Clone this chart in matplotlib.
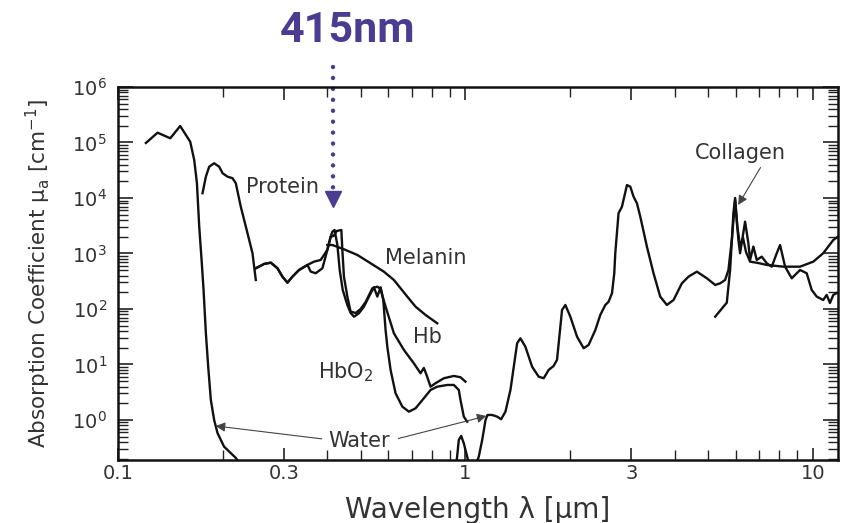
import matplotlib
matplotlib.use("Agg")
import matplotlib.pyplot as plt
from matplotlib.ticker import LogLocator, FixedLocator, FixedFormatter, NullFormatter

# ---------------- data (wavelength in um, absorption in cm^-1) ----------------
water_uv_wl = [0.1203, 0.1300, 0.1414, 0.1510, 0.1614, 0.1657, 0.1687, 0.1713, 0.1740,
               0.1763, 0.1790, 0.1818, 0.1850, 0.1891, 0.1934, 0.2020, 0.2183, 0.2256]
water_uv_mu = [9.8e4, 1.50e5, 1.19e5, 1.98e5, 1.03e5, 4.84e4, 1.86e4, 3040, 764,
               220, 37, 9.1, 2.3, 1.0, 0.58, 0.33, 0.207, 0.155]

water_hump_wl = [0.942, 0.9566, 0.9719, 0.9888, 1.0113, 1.022]
water_hump_mu = [0.168, 0.436, 0.515, 0.380, 0.218, 0.168]

water_ir_wl = [1.075, 1.092, 1.117, 1.142, 1.157, 1.193, 1.233, 1.266, 1.303, 1.347, 1.377,
               1.408, 1.439, 1.487, 1.555, 1.624, 1.679, 1.735, 1.793, 1.834, 1.875, 1.896,
               1.938, 2.003, 2.094, 2.188, 2.261, 2.364, 2.443, 2.526, 2.581, 2.640, 2.680,
               2.698, 2.757, 2.820, 2.915, 2.980, 3.045, 3.114, 3.184, 3.327, 3.476, 3.634,
               3.798, 3.969, 4.195, 4.383, 4.633, 4.950, 5.230, 5.405, 5.587, 5.710, 5.840,
               5.969, 6.036, 6.100, 6.169, 6.376, 6.517, 6.591, 6.736, 6.889, 7.120, 7.362,
               7.608, 7.866, 8.040, 8.312, 8.686, 8.980, 9.177, 9.592, 9.915, 10.25, 10.70,
               10.95, 11.19, 11.44, 11.70]
water_ir_mu = [0.168, 0.218, 0.436, 1.0, 1.23, 1.23, 1.15, 1.03, 1.41, 3.47, 9.1,
               24.1, 29.6, 20.9, 9.1, 6.03, 5.64, 7.96, 9.4, 12.1, 48, 96,
               118, 72.6, 31.7, 19.6, 22.5, 41.8, 78, 118, 135, 192, 440,
               1010, 5300, 6970, 1.71e4, 1.60e4, 1.06e4, 8030, 4610, 1330, 440, 167,
               118, 145, 290, 382, 470, 357, 271, 290, 333, 504, 1750,
               9200, 4010, 1750, 1010, 3740, 1530, 764, 1330, 764, 876, 666,
               578, 1010, 1420, 578, 357, 440, 504, 440, 220, 167, 145,
               179, 128, 179, 194]

collagen_wl = [5.23, 5.649, 5.774, 5.902, 5.969, 6.048, 6.169, 6.291, 6.417, 6.591, 6.95,
               7.362, 8.219, 9.177, 10.02, 10.70, 11.44, 11.80]
collagen_mu = [72.6, 130, 504, 5370, 1.0e4, 3260, 1330, 1900, 1060, 712, 674,
               621, 578, 578, 712, 1010, 1750, 2010]

protein_wl = [0.1751, 0.1790, 0.1830, 0.1891, 0.1955, 0.2000, 0.2066, 0.2136, 0.2183,
              0.2256, 0.2359, 0.2438, 0.2492]
protein_mu = [1.22e4, 2.42e4, 3.66e4, 4.22e4, 3.66e4, 2.79e4, 2.42e4, 2.27e4, 1.84e4,
              6970, 2310, 1010, 333]

hbo2_wl = [0.2492, 0.2633, 0.2753, 0.2877, 0.2973, 0.3073, 0.3177, 0.3319, 0.3509, 0.3586,
           0.3707, 0.3875, 0.4004, 0.4093, 0.4140, 0.4200, 0.4279, 0.4345, 0.4433, 0.4571,
           0.4672, 0.4776, 0.4935, 0.5102, 0.5274, 0.5451, 0.5576, 0.5698, 0.5800, 0.5889,
           0.5957, 0.6088, 0.6291, 0.6579, 0.6874, 0.7183, 0.7588, 0.7933, 0.8293, 0.8860,
           0.9256, 0.9566, 0.9674, 0.9888, 1.0113]
hbo2_mu = [541, 647, 683, 541, 382, 298, 382, 504, 621, 471,
           440, 541, 1160, 2010, 2470, 2650, 1420, 504, 220, 118,
           84.7, 72.6, 83.7, 110, 167, 246, 167, 246, 145, 41.8,
           20.9, 7.96, 3.03, 1.74, 1.41, 1.62, 2.46, 3.47, 3.98, 4.27,
           4.27, 3.47, 2.29, 1.15, 0.93]

hb_wl = [0.2492, 0.2633, 0.2753, 0.2877, 0.2973, 0.3073, 0.3177, 0.3319, 0.3509, 0.3665,
         0.3831, 0.4004, 0.4093, 0.4175, 0.4259, 0.4393, 0.4422, 0.4469, 0.4571, 0.4672,
         0.4830, 0.4993, 0.5162, 0.5395, 0.5576, 0.5698, 0.5812, 0.5889, 0.6222, 0.6648,
         0.7100, 0.7424, 0.7588, 0.7726, 0.7933, 0.8200, 0.8663, 0.9256, 0.9674, 1.0]
hb_mu = [541, 647, 683, 541, 382, 298, 382, 504, 621, 712,
         764, 1160, 2010, 2070, 2540, 2650, 1160, 382, 167, 89.4,
         84.7, 100, 134, 236, 252, 229, 145, 110, 36.5, 18.3,
         10.5, 6.94, 8.65, 6.47, 3.98, 4.59, 5.64, 6.21, 5.88, 4.90]

melanin_wl = [0.4004, 0.4140, 0.4469, 0.4884, 0.5333, 0.5823, 0.6222, 0.6504, 0.6799,
              0.7183, 0.7674, 0.8293]
melanin_mu = [1420, 1420, 1190, 940, 666, 470, 333, 236, 167, 110, 78, 55.2]

x_tick_values = [0.1, 0.3, 1, 3, 10]
x_tick_labels = ["0.1", "0.3", "1", "3", "10"]
x_minor_values = [0.2, 0.4, 0.5, 0.6, 0.7, 0.8, 0.9, 2, 4, 5, 6, 7, 8, 9]

# ---------------- figure ----------------
fig = plt.figure(figsize=(8.41, 5.23), dpi=100)
ax = fig.add_axes([0.1403, 0.1205, 0.8561, 0.7132])
ax.set_xscale("log")
ax.set_yscale("log")
ax.set_xlim(0.1, 11.8)
ax.set_ylim(0.19, 1e6)

lw = 1.7
col = "#111111"
for wl, mu in [(water_uv_wl, water_uv_mu), (water_hump_wl, water_hump_mu),
               (water_ir_wl, water_ir_mu), (collagen_wl, collagen_mu),
               (protein_wl, protein_mu), (hbo2_wl, hbo2_mu), (hb_wl, hb_mu),
               (melanin_wl, melanin_mu)]:
    ax.plot(wl, mu, color=col, lw=lw, solid_joinstyle="round")

# ticks
ax.xaxis.set_major_locator(FixedLocator(x_tick_values))
ax.xaxis.set_major_formatter(FixedFormatter(x_tick_labels))
ax.xaxis.set_minor_locator(FixedLocator(x_minor_values))
ax.xaxis.set_minor_formatter(NullFormatter())
ax.yaxis.set_major_locator(FixedLocator([1, 10, 100, 1e3, 1e4, 1e5, 1e6]))
ax.yaxis.set_minor_locator(LogLocator(base=10, subs=[2, 3, 4, 5, 6, 7, 8, 9], numticks=20))
ax.yaxis.set_minor_formatter(NullFormatter())
ax.tick_params(which="both", direction="in", top=True, right=True, colors="#222222",
               labelcolor="#333333", labelsize=14)
ax.tick_params(axis="y", which="major", length=11, width=1.2, pad=8)
ax.tick_params(axis="x", which="major", length=9, width=1.2, pad=3)
ax.tick_params(which="minor", length=7, width=1.0)
for s in ax.spines.values():
    s.set_linewidth(1.8)
    s.set_color("#111111")

ax.set_xlabel("Wavelength λ [μm]", fontsize=20, color="#333333", labelpad=9)
ax.set_ylabel(r"Absorption Coefficient μ$_\mathregular{a}$ [cm$^{\mathregular{-1}}$]",
              fontsize=15.5, color="#333333", labelpad=14)

# curve labels
tk = dict(fontsize=15, color="#333333", ha="center", va="center")
ax.text(0.298, 1.58e4, "Protein", **tk)
ax.text(0.767, 830, "Melanin", **tk)
ax.text(0.778, 31.3, "Hb", **tk)
ax.text(0.452, 7.3, r"HbO$_\mathregular{2}$", **tk)
ax.text(0.4927, 0.418, "Water", **tk)
ax.text(6.17, 6.46e4, "Collagen", **tk)

ap = dict(arrowstyle="-|>", color="#444444", lw=0.8, mutation_scale=14,
          shrinkA=2, shrinkB=0)
ax.annotate("", xy=(0.191, 0.78), xytext=(0.393, 0.45), arrowprops=ap)
ax.annotate("", xy=(1.149, 1.18), xytext=(0.63, 0.45), arrowprops=ap)
ax.annotate("", xy=(6.09, 7480), xytext=(7.13, 3.9e4), arrowprops=ap)

# 415 nm marker
purple = "#4B3C91"
ax.plot([0.415, 0.415], [2.3e6, 1.52e4], color=purple, lw=3.2,
        linestyle=(0, (0.01, 2.45)), dash_capstyle="round", clip_on=False)
ax.plot([0.415], [9600], marker="v", color=purple, markersize=11, clip_on=False)
fig.text(348 / 841, 1 - 31 / 523, "415nm", fontsize=31, fontweight="bold",
         family=["Roboto", "DejaVu Sans"], color=purple, ha="center", va="center")

fig.savefig("out.png", dpi=100)
